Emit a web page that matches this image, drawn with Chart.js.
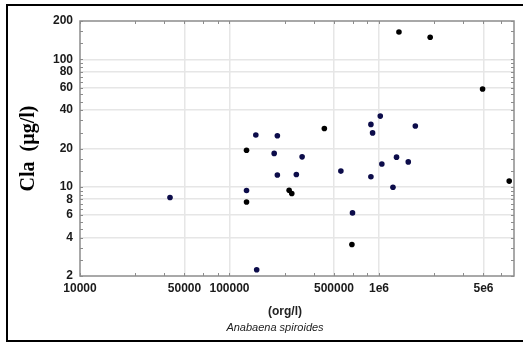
<!DOCTYPE html>
<html>
<head>
<meta charset="utf-8">
<script src="https://cdn.jsdelivr.net/npm/chart.js@4/dist/chart.umd.min.js"></script>
<style>
  html, body { margin: 0; padding: 0; background: #fff; overflow: hidden; }
  #wrap { position: relative; width: 523px; height: 342px; overflow: hidden; }
  #frame { position: absolute; left: 6px; top: 4px; width: 540px; height: 334px; border: 2px solid #000; }
  #chart { position: absolute; left: 0; top: 0; }
</style>
</head>
<body>
<div id="wrap">
  <div id="frame"></div>
  <canvas id="chart" width="523" height="342"></canvas>
</div>
<script>
// Anabaena spiroides (org/l) vs Cla (ug/l)
const navyX = [40000, 150000, 209000, 199000, 306000, 209000, 280000, 556000, 130000, 152000,
  1020000, 883000, 906000, 1750000, 1310000, 1570000, 1045000, 883000, 1240000, 665000];
const navyY = [8.25, 25.5, 25.2, 18.3, 17.2, 12.4, 12.5, 13.3, 9.37, 2.24,
  35.9, 30.9, 26.5, 30.0, 17.1, 15.7, 15.1, 12.0, 9.94, 6.25];

const blackX = [431000, 130000, 130000, 250600, 261000, 1360000, 2200000, 4930000, 7430000, 659000];
const blackY = [28.7, 19.4, 7.62, 9.42, 8.87, 164, 149, 58.5, 11.1, 3.53];

const xTickValues = [10000, 50000, 100000, 500000, 1000000, 5000000];
const xTickLabels = ['10000', '50000', '100000', '500000', '1e6', '5e6'];
const yTickValues = [2, 4, 6, 8, 10, 20, 40, 60, 80, 100, 200];
const yTickLabels = ['2', '4', '6', '8', '10', '20', '40', '60', '80', '100', '200'];

const X_MIN = 10000;
const X_MAX = 8000000;
const Y_MIN = 2;
const Y_MAX = 200;

/**
 * Two minor ticks, evenly spaced, between each pair of labelled values.
 */
function withMinors(majors, max) {
  const out = [];
  const stops = majors.concat(majors[majors.length - 1] < max ? [max] : []);
  for (let i = 0; i < stops.length; i++) {
    out.push(stops[i]);
    if (i < stops.length - 1) {
      const a = stops[i];
      const b = stops[i + 1];
      if (b === max && majors.indexOf(max) < 0) {
        out.push(a + (b - a) / 2);
      } else {
        out.push(a + (b - a) / 3, a + 2 * (b - a) / 3);
      }
    }
  }
  return out.filter((v) => v <= max);
}

const xAllTicks = withMinors(xTickValues, X_MAX).filter((v) => v < X_MAX);
const yAllTicks = withMinors(yTickValues, Y_MAX);

const toPoints = (xs, ys) => xs.map((x, i) => ({ x, y: ys[i] }));

const tickFont = { family: 'Liberation Sans', size: 12, weight: 'bold' };
const gridColor = '#e6e6e6';
const boxColor = '#8c8c8c';

// Box border, inward tick marks and the two x-axis captions
const framePlugin = {
  id: 'frame',
  afterDraw(chart) {
    const { ctx, chartArea: area, scales } = chart;
    ctx.save();
    ctx.strokeStyle = boxColor;
    ctx.lineWidth = 1.5;
    ctx.strokeRect(area.left, area.top, area.right - area.left, area.bottom - area.top);

    ctx.lineWidth = 1;
    ctx.beginPath();
    xAllTicks.forEach((v) => {
      const px = Math.round(scales.x.getPixelForValue(v)) + 0.5;
      ctx.moveTo(px, area.bottom);
      ctx.lineTo(px, area.bottom - 3);
      ctx.moveTo(px, area.top);
      ctx.lineTo(px, area.top + 3);
    });
    yAllTicks.forEach((v) => {
      const py = Math.round(scales.y.getPixelForValue(v)) + 0.5;
      ctx.moveTo(area.left, py);
      ctx.lineTo(area.left + 3, py);
      ctx.moveTo(area.right, py);
      ctx.lineTo(area.right - 3, py);
    });
    ctx.stroke();

    const midX = (area.left + area.right) / 2;
    ctx.fillStyle = '#222';
    ctx.textAlign = 'center';
    ctx.textBaseline = 'middle';
    ctx.font = 'bold 12px "Liberation Sans"';
    ctx.fillText('(org/l)', midX - 12, area.bottom + 36);
    ctx.font = 'italic 11px "Liberation Sans"';
    ctx.fillText('Anabaena spiroides', midX - 22, area.bottom + 52);
    ctx.restore();
  },
};

const canvas = document.getElementById('chart');
new Chart(canvas, {
  type: 'scatter',
  data: {
    datasets: [{
      label: 'navy',
      data: toPoints(navyX, navyY),
      backgroundColor: '#0c0c4a',
      borderColor: '#0c0c4a',
      pointRadius: 2.8,
      borderWidth: 0,
    }, {
      label: 'black',
      data: toPoints(blackX, blackY),
      backgroundColor: '#000',
      borderColor: '#000',
      pointRadius: 2.8,
      borderWidth: 0,
    }],
  },
  options: {
    responsive: false,
    devicePixelRatio: 1,
    animation: false,
    events: [],
    layout: { padding: { top: 21, right: 9, left: 0, bottom: 0 } },
    plugins: {
      legend: { display: false },
      tooltip: { enabled: false },
    },
    scales: {
      x: {
        type: 'logarithmic',
        min: X_MIN,
        max: X_MAX,
        afterBuildTicks: (scale) => { scale.ticks = xTickValues.map((v) => ({ value: v })); },
        afterFit: (scale) => { scale.height = 66; },
        border: { display: false },
        grid: {
          drawTicks: false,
          color: (c) => (c.tick && c.tick.value > X_MIN ? gridColor : 'rgba(0,0,0,0)'),
          lineWidth: 1.5,
        },
        ticks: {
          autoSkip: false,
          maxRotation: 0,
          padding: 5,
          color: '#1a1a1a',
          font: tickFont,
          callback: (value) => {
            const i = xTickValues.indexOf(value);
            return i >= 0 ? xTickLabels[i] : '';
          },
        },
      },
      y: {
        type: 'logarithmic',
        min: Y_MIN,
        max: Y_MAX,
        afterBuildTicks: (scale) => { scale.ticks = yTickValues.map((v) => ({ value: v })); },
        afterFit: (scale) => { scale.width = 80; },
        border: { display: false },
        grid: {
          drawTicks: false,
          color: (c) => (c.tick && c.tick.value > Y_MIN && c.tick.value < Y_MAX ? gridColor : 'rgba(0,0,0,0)'),
          lineWidth: 1.5,
        },
        title: {
          display: true,
          text: 'Cla  (µg/l)',
          color: '#000',
          font: { family: 'Liberation Serif', size: 20, weight: 'bold' },
          padding: { top: 17, bottom: 0 },
        },
        ticks: {
          autoSkip: false,
          padding: 7,
          color: '#1a1a1a',
          font: tickFont,
          callback: (value) => {
            const i = yTickValues.indexOf(value);
            return i >= 0 ? yTickLabels[i] : '';
          },
        },
      },
    },
  },
  plugins: [framePlugin],
});
</script>
</body>
</html>
